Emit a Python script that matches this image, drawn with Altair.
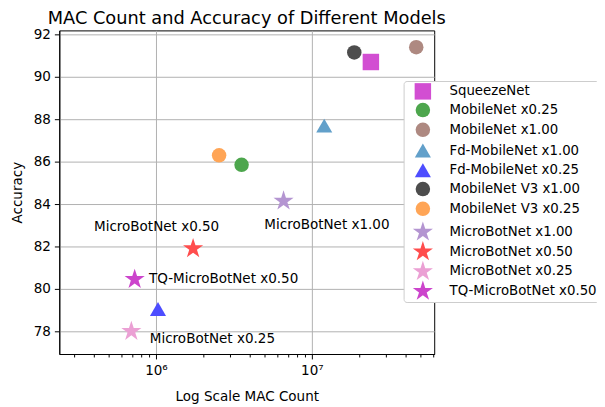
import math
import altair as alt
import pandas as pd

# ---- data ----
models = [
    "SqueezeNet", "MobileNet x0.25", "MobileNet x1.00", "Fd-MobileNet x1.00",
    "Fd-MobileNet x0.25", "MobileNet V3 x1.00", "MobileNet V3 x0.25",
    "MicroBotNet x1.00", "MicroBotNet x0.50", "MicroBotNet x0.25",
    "TQ-MicroBotNet x0.50",
]
mac_counts = [2.39e7, 3.54e6, 4.67e7, 1.20e7, 1.03e6, 1.87e7, 2.54e6,
              6.58e6, 1.73e6, 6.95e5, 7.30e5]
accuracy = [90.7, 85.85, 91.4, 87.7, 79.05, 91.15, 86.3,
            84.15, 81.9, 78.0, 80.45]
markers = ["square", "circle", "circle", "triangle-up", "triangle-up",
           "circle", "circle", "star", "star", "star", "star"]
colors = ["#d24ed2", "#4da64d", "#ae8981", "#62a0ca", "#4d4dff",
          "#4d4d4d", "#ffa556", "#b495d1", "#ff4d4d", "#eba0d4", "#cc44cc"]

annotated = ["MicroBotNet x0.50", "MicroBotNet x1.00",
             "TQ-MicroBotNet x0.50", "MicroBotNet x0.25"]

y_ticks = [78, 80, 82, 84, 86, 88, 90, 92]
x_major = [1e6, 1e7]
x_major_labels = ["10\u2076", "10\u2077"]
x_minor = [3e5, 4e5, 5e5, 6e5, 7e5, 8e5, 9e5,
           2e6, 3e6, 4e6, 5e6, 6e6, 7e6, 8e6, 9e6,
           2e7, 3e7, 4e7, 5e7, 6e7]

# ---- styles ----
def star_path(inner=0.381966):
    pts = []
    for k in range(10):
        r = 1.0 if k % 2 == 0 else inner
        a = math.radians(90 + 36 * k)
        pts.append((r * math.cos(a), -r * math.sin(a)))
    return "M" + "L".join(f"{x:.4f},{y:.4f}" for x, y in pts) + "Z"

STAR = star_path()
shape_of = {"square": "square", "circle": "circle",
            "triangle-up": "triangle-up", "star": STAR}
size_of = {"square": 278, "circle": 216, "triangle-up": 266, "star": 460}

df = pd.DataFrame({"model": models, "mac": mac_counts, "acc": accuracy})

FONT = "DejaVu Sans"
FS = 13.7
x_scale = alt.Scale(type="log", domain=[2.398e5, 6.09e7], nice=False)
y_scale = alt.Scale(domain=[76.93, 92.19], nice=False, zero=False)

major_test = "abs(log(datum.value)/LN10 - round(log(datum.value)/LN10)) < 0.001"
label_expr = " : ".join(
    f"datum.value == {v:.0f} ? '{l}'" for v, l in zip(x_major, x_major_labels)
) + " : ''"

x_enc = alt.X(
    "mac:Q", scale=x_scale,
    axis=alt.Axis(
        title="Log Scale MAC Count", values=x_major + x_minor,
        labelExpr=label_expr,
        gridOpacity={"condition": {"test": major_test, "value": 1}, "value": 0},
        tickSize={"condition": {"test": major_test, "value": 5}, "value": 3},
        labelPadding=5, titlePadding=12,
    ),
)
y_enc = alt.Y(
    "acc:Q", scale=y_scale,
    axis=alt.Axis(title="Accuracy", values=y_ticks, tickSize=5,
                  labelPadding=4, titlePadding=9),
)

points = alt.Chart(df).mark_point(filled=True, opacity=1, strokeWidth=0).encode(
    x=x_enc,
    y=y_enc,
    color=alt.Color("model:N", scale=alt.Scale(domain=models, range=colors),
                    legend=alt.Legend(
                        orient="none", legendX=349, legendY=51.3, title=None,
                        labelFontSize=13.5, labelFont=FONT, labelColor="black",
                        strokeColor="#cccccc", fillColor="white",
                        padding=2, cornerRadius=3, rowPadding=0,
                        gridAlign="all", labelOffset=16, symbolOffset=6.5,
                        symbolStrokeWidth=0, symbolOpacity=1,
                    )),
    shape=alt.Shape("model:N", scale=alt.Scale(
        domain=models, range=[shape_of[m] for m in markers])),
    size=alt.Size("model:N", scale=alt.Scale(
        type="ordinal", domain=models, range=[size_of[m] for m in markers])),
)

ann = df[df["model"].isin(annotated)]

def label(name, dx, dy, align):
    return alt.Chart(ann[ann["model"] == name]).mark_text(
        dx=dx, dy=dy, align=align, baseline="middle",
        fontSize=FS, font=FONT, color="black",
    ).encode(x=alt.X("mac:Q", scale=x_scale), y=alt.Y("acc:Q", scale=y_scale),
             text="model:N")

texts = (label("MicroBotNet x0.50", -37, -21.6, "center")
         + label("MicroBotNet x1.00", 44, 24.5, "center")
         + label("TQ-MicroBotNet x0.50", 14.5, 0, "left")
         + label("MicroBotNet x0.25", 18.7, 7.7, "left"))

chart = alt.layer(points, texts).properties(
    width=380, height=328,
    title=alt.TitleParams("MAC Count and Accuracy of Different Models",
                          fontSize=18, font=FONT, fontWeight="normal",
                          anchor="middle", offset=0, color="black"),
    autosize=alt.AutoSizeParams(type="none"),
    padding={"left": 52, "top": 20, "right": 165, "bottom": 51},
).configure_view(
    stroke="black", strokeWidth=1,
).configure_axis(
    labelFont=FONT, titleFont=FONT, labelFontSize=FS, titleFontSize=FS,
    labelColor="black", titleColor="black", titleFontWeight="normal",
    domainColor="black", tickColor="black", gridColor="#b0b0b0",
    gridWidth=1, labelFlush=False,
)

chart.save("out.html", embed_options={"renderer": "svg", "actions": False})
